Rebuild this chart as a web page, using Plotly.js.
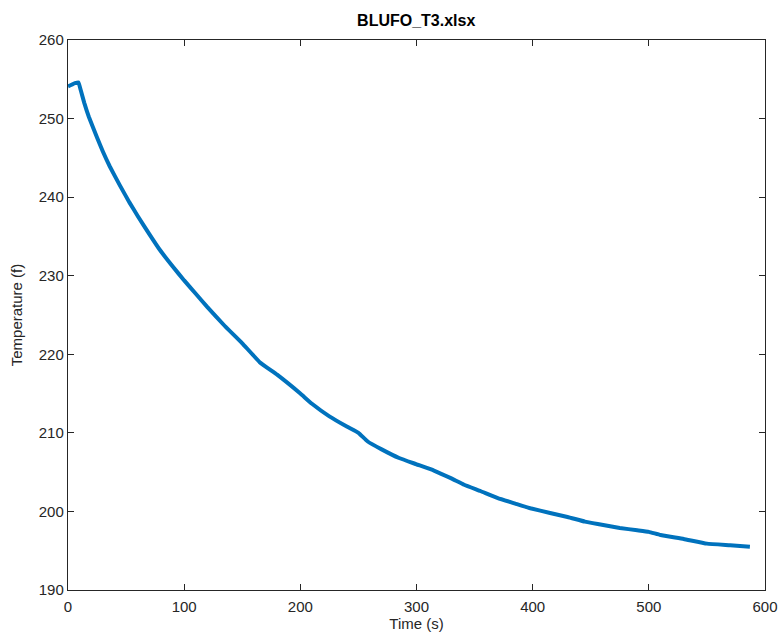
<!DOCTYPE html>
<html>
<head>
<meta charset="utf-8">
<script src="https://cdn.plot.ly/plotly-3.0.1.min.js"></script>
<style>html,body{margin:0;padding:0;background:#fff;}#chart{width:778px;height:637px;}</style>
</head>
<body>
<div id="chart"></div>
<script>
const timeS = [0,3,6,9,11,14,18,25,30,36,45,53,60,70,79,90,100,110,120,135,150,165,180,200,210,225,240,250,258,270,285,300,315,330,341,355,370,385,398,415,430,445,456,475,490,500,510,530,550,570,587];
const tempF = [254.1,254.3,254.5,254.6,253.6,252.0,250.2,247.6,245.8,243.9,241.4,239.3,237.6,235.3,233.3,231.2,229.4,227.7,226.0,223.6,221.4,219.0,217.4,215.0,213.7,212.1,210.8,210.0,208.9,207.9,206.8,206.0,205.2,204.2,203.4,202.6,201.7,201.0,200.4,199.8,199.3,198.7,198.4,197.9,197.6,197.4,197.0,196.5,195.9,195.7,195.5];
const xTicks = [0,100,200,300,400,500,600];
const yTicks = [190,200,210,220,230,240,250,260];

const axisCommon = {
  showgrid: false, zeroline: false, showline: true, mirror: 'allticks',
  linecolor: '#262626', linewidth: 1.2, ticks: 'inside', ticklen: 6, tickwidth: 1.2,
  tickcolor: '#262626', tickfont: {family: 'Liberation Sans, Arial, sans-serif', size: 15, color: '#262626'}
};

Plotly.newPlot('chart', [{
  x: timeS, y: tempF, type: 'scatter', mode: 'lines',
  line: {color: '#0072BD', width: 4, shape: 'spline', smoothing: 0.3}
}], {
  width: 778, height: 637,
  margin: {l: 68, r: 13, t: 40, b: 47},
  paper_bgcolor: '#fff', plot_bgcolor: '#fff',
  showlegend: false,
  title: {text: '<b>BLUFO_T3.xlsx</b>', font: {family: 'Liberation Sans, Arial, sans-serif', size: 16, color: '#000'}, x: 0.535, xanchor: 'center', y: 0.968, yanchor: 'middle'},
  xaxis: Object.assign({}, axisCommon, {range: [0, 600], tickvals: xTicks, ticktext: xTicks.map(String), ticklabelstandoff: 3,
    title: {text: 'Time (s)', font: {family: 'Liberation Sans, Arial, sans-serif', size: 15, color: '#262626'}, standoff: 4}}),
  yaxis: Object.assign({}, axisCommon, {range: [190, 260], tickvals: yTicks, ticktext: yTicks.map(String),
    title: {text: 'Temperature (f)', font: {family: 'Liberation Sans, Arial, sans-serif', size: 15, color: '#262626'}, standoff: 12}})
}, {staticPlot: true});
</script>
</body>
</html>
